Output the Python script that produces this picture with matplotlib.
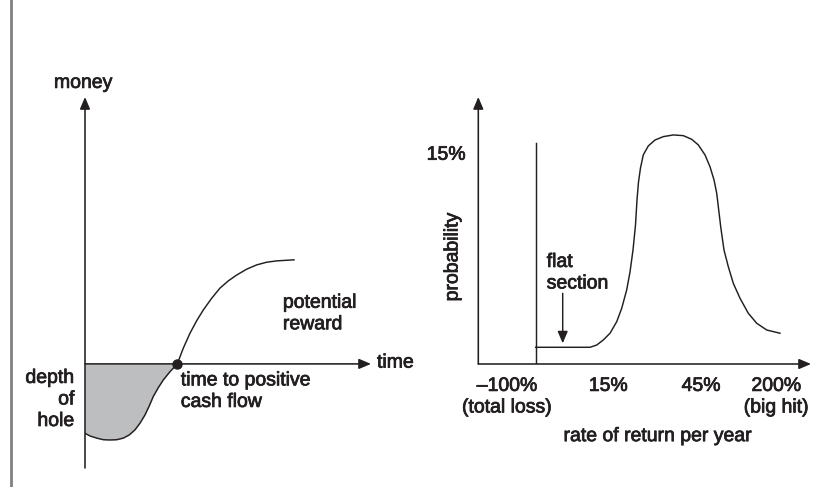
import matplotlib
matplotlib.use('Agg')
import numpy as np
import matplotlib.pyplot as plt
from matplotlib.lines import Line2D
import matplotlib.patheffects as pe

plt.rcParams['font.family'] = ['Liberation Sans', 'DejaVu Sans']

INK = '#231f20'
HOLE = '#bcbec0'
FS = 14
BOLDEN = [pe.withStroke(linewidth=0.55, foreground=INK)]

# ---------------- data (left: cash flow over time) ----------------
cash_time = [0, 1.75, 4.09, 6.40, 8.74, 11.08, 13.39, 15.49, 17.48, 19.23, 20.98, 22.48, 23.88,
             25.63, 27.38, 29.72, 32.27, 34.37, 36.71, 39.06, 41.36, 44.30, 47.20, 50.10,
             53.04, 56.54, 60.03, 63.53, 67.03, 73.08]
cash_money = [-26.0, -27.0, -27.8, -28.4, -28.5, -28.4, -27.8, -26.6, -24.7, -22.2, -19.1, -15.7,
              -12.2, -8.9, -6.0, -2.9, 0.0, 5.9, 11.5, 16.2, 20.2, 24.6, 28.4, 31.1, 33.3, 35.5,
              37.1, 38.1, 38.6, 39.0]
breakeven_time = 32.27

# ---------------- data (right: distribution of returns) ----------------
ret_pos = [17.25, 33.57, 35.59, 37.57, 39.59, 41.60, 43.10, 44.60, 45.60, 46.50, 47.25, 47.70,
           48.15, 48.75, 49.59, 51.10, 53.11, 55.61, 58.61, 61.62, 64.14, 66.13, 68.14, 69.64,
           70.85, 71.66, 72.26, 72.86, 73.85, 75.14, 76.65, 78.66, 81.15, 83.68, 86.68, 90.68]
prob = [1.19, 1.19, 1.35, 1.71, 2.19, 3.01, 3.96, 5.27, 6.55, 8.11, 9.89, 11.67,
        12.95, 13.95, 14.88, 15.52, 15.94, 16.18, 16.30, 16.25, 15.99, 15.59, 14.88, 14.04,
        13.10, 12.15, 10.96, 9.77, 8.11, 6.93, 5.74, 4.68, 3.61, 2.90, 2.42, 2.19]
total_loss_pos = 17.25
total_loss_prob = 15.75
ret_tick_pos = [8.7, 39.1, 67.0, 89.6]
ret_tick_labels = ['\u2013100%\n(total loss)', '15%', '45%', '200%\n(big hit)']
prob_tick_pos = [15]
prob_tick_labels = ['15%']

W, H = 814, 487
fig = plt.figure(figsize=(W / 100, H / 100), dpi=100)
fig.patch.set_facecolor('white')

# left border rule
fig.add_artist(Line2D([10.5 / W, 10.5 / W], [0, 1], color='#808080', lw=2.0))

arrow_kw = dict(arrowstyle='-|>,head_length=0.4,head_width=0.17', mutation_scale=18,
                lw=1.15, color=INK, shrinkA=0, shrinkB=0)

txt = dict(fontsize=FS, color=INK, linespacing=1.35, path_effects=BOLDEN)

# ---------------- left panel ----------------
ax1 = fig.add_axes([85 / W, (H - 468) / H, 286 / W, 371 / H])
ax1.set_xlim(0, 100)
ax1.set_ylim(-39, 100)
ax1.axis('off')

t = np.array(cash_time)
m = np.array(cash_money)
hole = t <= breakeven_time
ax1.fill_between(t[hole], m[hole], 0, color=HOLE, lw=0, zorder=1)
ax1.plot(t, m, color=INK, lw=1.05, zorder=3, solid_joinstyle='round')
ax1.annotate('', xy=(0, 100), xytext=(0, -39), arrowprops=arrow_kw, annotation_clip=False)
ax1.annotate('', xy=(100, 0), xytext=(0, 0), arrowprops=arrow_kw, annotation_clip=False)
ax1.plot([breakeven_time], [0], 'o', color=INK, ms=6.5, zorder=4, clip_on=False)

ax1.text(-0.6, 105.1, 'money', ha='center', va='center', **txt)
ax1.text(102.1, 0.3, 'time', ha='left', va='center', **txt)
ax1.text(-3.7, -13.5, 'depth\nof\nhole', ha='right', va='center', multialignment='right', **txt)
ax1.text(33.5, -10.4, 'time to positive\ncash flow', ha='left', va='center', **txt)
ax1.text(69.2, 18.7, 'potential\nreward', ha='left', va='center', **txt)

# ---------------- right panel ----------------
ax2 = fig.add_axes([478.3 / W, (H - 364) / H, 332.7 / W, 267 / H])
ax2.set_xlim(0, 100)
ax2.set_ylim(0, 19)
for s in ax2.spines.values():
    s.set_visible(False)
ax2.set_xticks(ret_tick_pos, ret_tick_labels)
ax2.set_yticks(prob_tick_pos, prob_tick_labels)
ax2.tick_params(axis='both', length=0, labelsize=FS, labelcolor=INK)
ax2.tick_params(axis='x', pad=10)
ax2.tick_params(axis='y', pad=9)
for lab in ax2.get_xticklabels() + ax2.get_yticklabels():
    lab.set_linespacing(1.35)
    lab.set_multialignment('center')
    lab.set_path_effects(BOLDEN)
ax2.set_xlabel('rate of return per year', fontsize=FS, color=INK, va='center', path_effects=BOLDEN)
ax2.xaxis.set_label_coords(0.541, -0.272)
ax2.set_ylabel('probability', fontsize=FS, color=INK, va='center', path_effects=BOLDEN)
ax2.yaxis.set_label_coords(-0.076, 0.402)

ax2.plot(ret_pos, prob, color=INK, lw=1.05, zorder=3, solid_joinstyle='round')
ax2.plot([total_loss_pos, total_loss_pos], [0, total_loss_prob], color=INK, lw=1.05, zorder=3)
ax2.annotate('', xy=(0, 19), xytext=(0, 0), arrowprops=arrow_kw, annotation_clip=False)
ax2.annotate('', xy=(100, 0), xytext=(0, 0), arrowprops=arrow_kw, annotation_clip=False)
ax2.annotate('', xy=(25.37, 1.47), xytext=(25.37, 5.03),
             arrowprops=dict(arrowstyle='-|>,head_length=0.4,head_width=0.17', mutation_scale=18,
                             lw=1.05, color=INK, shrinkA=0, shrinkB=0))
ax2.text(20.56, 6.46, 'flat\nsection', ha='left', va='center', **txt)

fig.savefig('out.png', dpi=100, facecolor='white')
